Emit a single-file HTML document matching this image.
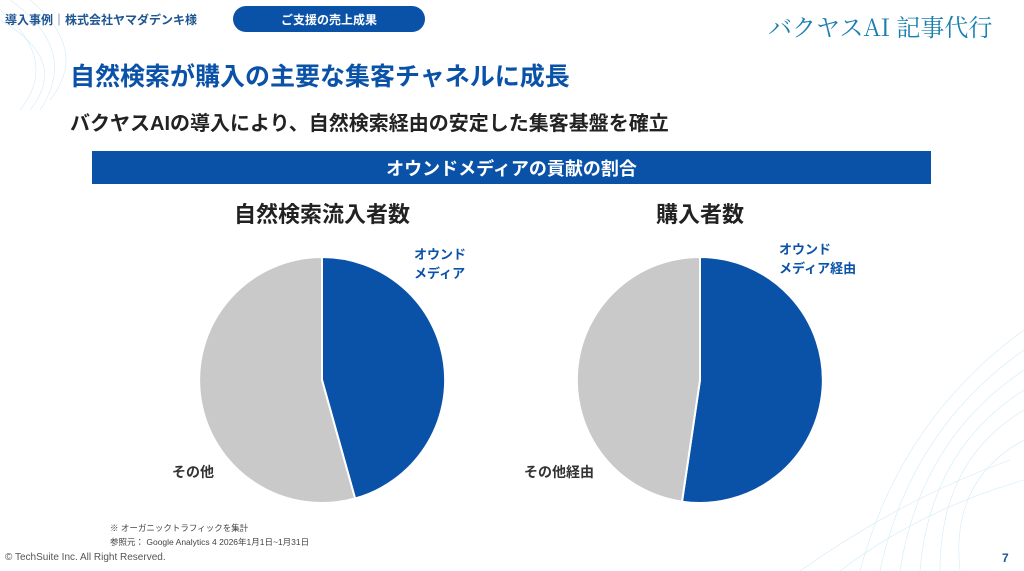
<!DOCTYPE html>
<html><head><meta charset="utf-8"><style>
body{margin:0;width:1024px;height:571px;overflow:hidden;background:#fff;font-family:"Liberation Sans","Noto Sans CJK JP",sans-serif;position:relative}
.a{position:absolute;white-space:nowrap}
</style></head><body>
<svg class="a" style="left:0;top:0" width="1024" height="571">
<g fill="none" stroke="#bfe3f5" stroke-width="0.6" opacity="0.7">
<path d="M0 10 Q60 60 20 110"/><path d="M0 20 Q70 60 30 110"/><path d="M10 0 Q80 50 40 110"/><path d="M30 0 Q90 50 50 100"/>
<path d="M1024 330 Q900 420 860 571"/><path d="M1024 350 Q910 430 880 571"/><path d="M1024 370 Q920 440 900 571"/><path d="M1024 390 Q930 450 920 571"/><path d="M1024 410 Q940 460 940 571"/><path d="M1024 440 Q950 480 960 571"/><path d="M1010 460 Q900 500 800 571"/><path d="M1024 480 Q920 510 840 571"/>
</g>
<rect x="233" y="6" width="192" height="26" rx="13" fill="#0a52a8"/>
<rect x="92" y="151" width="839" height="33" fill="#0a52a8"/>
<path d="M322 380 L322 257 A123 123 0 0 1 355.1 498.5 Z" fill="#0a52a8" stroke="#fff" stroke-width="2"/>
<path d="M322 380 L355.1 498.5 A123 123 0 1 1 322 257 Z" fill="#c9c9c9" stroke="#fff" stroke-width="2"/>
<path d="M700 380 L700 257 A123 123 0 1 1 682 501.7 Z" fill="#0a52a8" stroke="#fff" stroke-width="2"/>
<path d="M700 380 L682 501.7 A123 123 0 0 1 700 257 Z" fill="#c9c9c9" stroke="#fff" stroke-width="2"/>
</svg>
<div class="a" style="left:5px;top:11px;font-size:12px;font-weight:bold;color:#1f5590">導入事例｜株式会社ヤマダデンキ様</div>
<div class="a" style="left:233px;top:11px;width:192px;text-align:center;font-size:12px;font-weight:bold;color:#fff">ご支援の売上成果</div>
<div class="a" style="left:768px;top:8px;font-size:24px;color:#1a7fb0;font-family:'Noto Serif CJK SC',serif">バクヤスAI 記事代行</div>
<div class="a" style="left:70px;top:57px;font-size:25px;font-weight:bold;color:#0a52a8">自然検索が購入の主要な集客チャネルに成長</div>
<div class="a" style="left:70px;top:107px;font-size:20px;font-weight:bold;color:#222">バクヤスAIの導入により、自然検索経由の安定した集客基盤を確立</div>
<div class="a" style="left:92px;top:155px;width:839px;text-align:center;font-size:18px;font-weight:bold;color:#fff">オウンドメディアの貢献の割合</div>
<div class="a" style="left:222px;top:197px;width:200px;text-align:center;font-size:22px;font-weight:bold;color:#222">自然検索流入者数</div>
<div class="a" style="left:600px;top:197px;width:200px;text-align:center;font-size:22px;font-weight:bold;color:#222">購入者数</div>
<div class="a" style="left:414px;top:245px;font-size:13px;font-weight:bold;color:#0a52a8;line-height:19px">オウンド<br>メディア</div>
<div class="a" style="left:779px;top:240px;font-size:13px;font-weight:bold;color:#0a52a8;line-height:19px">オウンド<br>メディア経由</div>
<div class="a" style="left:172px;top:462px;font-size:14px;font-weight:bold;color:#333">その他</div>
<div class="a" style="left:524px;top:462px;font-size:14px;font-weight:bold;color:#333">その他経由</div>
<div class="a" style="left:110px;top:521px;font-size:8.5px;color:#444;line-height:14px">※ オーガニックトラフィックを集計<br>参照元： Google Analytics 4 2026年1月1日~1月31日</div>
<div class="a" style="left:5px;top:552px;font-size:10px;color:#555">© TechSuite Inc. All Right Reserved.</div>
<div class="a" style="left:1002px;top:551px;font-size:12px;font-weight:bold;color:#1f5590">7</div>
</body></html>
